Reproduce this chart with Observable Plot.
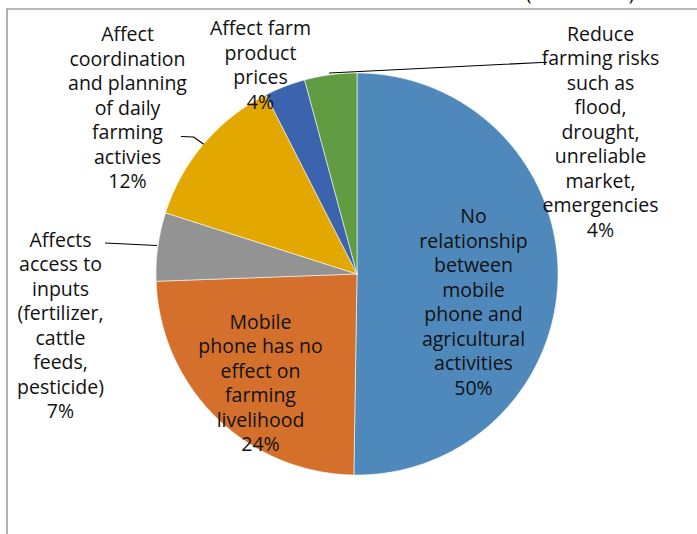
<!DOCTYPE html>
<html>
<head>
<meta charset="utf-8">
<script src="https://cdn.jsdelivr.net/npm/d3@7"></script>
<script src="https://cdn.jsdelivr.net/npm/@observablehq/plot@0.6"></script>
<style>
  html, body { margin: 0; padding: 0; background: #fff; }
  #chart { width: 697px; height: 534px; overflow: hidden; }
</style>
</head>
<body>
<div id="chart"></div>
<script>
// ---- data (clockwise from 12 o'clock) ----
const categories = [
  "No relationship between mobile phone and agricultural activities",
  "Mobile phone has no effect on farming livelihood",
  "Affects access to inputs (fertilizer, cattle feeds, pesticide)",
  "Affect coordination and planning of daily farming activies",
  "Affect farm product prices",
  "Reduce farming risks such as flood, drought, unreliable market, emergencies"
];
const shares = [50.3, 24.2, 5.5, 12.6, 3.3, 4.2];
// percentage labels as printed
const pctLabels = ["50%", "24%", "7%", "12%", "4%", "4%"];
// wrapped label lines as printed
const labelLines = [
  "No\nrelationship\nbetween\nmobile\nphone and\nagricultural\nactivities",
  "Mobile\nphone has no\neffect on\nfarming\nlivelihood",
  "Affects\naccess to\ninputs\n(fertilizer,\ncattle\nfeeds,\npesticide)",
  "Affect\ncoordination\nand planning\nof daily\nfarming\nactivies",
  "Affect farm\nproduct\nprices",
  "Reduce\nfarming risks\nsuch as\nflood,\ndrought,\nunreliable\nmarket,\nemergencies"
];

// ---- styles / layout ----
const colors = ["#4f88bb", "#d4702b", "#939393", "#e2a800", "#3c63ad", "#629c42"];
const W = 697, H = 534;
const CX = 356.5, CY = 273.5, R = 201;
const FS = 19.5, LH = 24.5;
// label block centres (pixels)
const labelPos = [
  [473, 300.5], [260, 381.5], [60, 324], [127, 106.5], [260, 63.5], [600, 130.5]
];
// leader lines (pixels)
const leaders = [
  {id: "risk", pts: [[329, 72.5], [541, 62], [546, 62]]},
  {id: "coord", pts: [[181, 136], [193, 136.5], [203, 143.5]]},
  {id: "inputs", pts: [[105, 242.5], [156, 245]]}
];

// ---- build geometry via d3.pie ----
const arcs = d3.pie().sort(null).value(d => d)(shares);
const slices = arcs.map((a, i) => {
  const pts = [{x: CX, y: CY}];
  const n = Math.max(8, Math.ceil((a.endAngle - a.startAngle) / 0.01));
  for (let k = 0; k <= n; k++) {
    const t = a.startAngle + (a.endAngle - a.startAngle) * k / n;
    pts.push({x: CX + R * Math.sin(t), y: CY - R * Math.cos(t)});
  }
  pts.push({x: CX, y: CY});
  return {name: categories[i], color: colors[i], pts};
});

const labels = categories.map((c, i) => ({
  name: c,
  x: labelPos[i][0],
  y: labelPos[i][1],
  text: labelLines[i] + "\n" + pctLabels[i]
}));

const leaderPts = leaders.flatMap(l => l.pts.map(p => ({id: l.id, x: p[0], y: p[1]})));

const chart = Plot.plot({
  width: W,
  height: H,
  margin: 0,
  x: {domain: [0, W], range: [0, W], axis: null},
  y: {domain: [0, H], range: [0, H], axis: null},
  style: {fontFamily: "'Open Sans', sans-serif", background: "#fff", overflow: "visible"},
  marks: [
    // chart area frame (left and top edges visible)
    Plot.ruleX([6.5], {y1: 8.5, y2: H, stroke: "#a0a0a0", strokeWidth: 1.6}),
    Plot.ruleY([8.5], {x1: 6.5, x2: W, stroke: "#a0a0a0", strokeWidth: 1.6}),
    // bottoms of a clipped title line above the chart area
    Plot.text(["(", ")"], {x: [528, 631], y: [-7, -7], text: d => d, fontSize: 19.5, fill: "#111", lineAnchor: "middle"}),
    ...slices.map(s => Plot.line(s.pts, {
      x: "x", y: "y", fill: s.color, stroke: "#ffffff", strokeWidth: 0.7,
      strokeOpacity: 0.8, curve: "linear"
    })),
    Plot.line(leaderPts, {x: "x", y: "y", z: "id", stroke: "#000", strokeWidth: 1.1}),
    Plot.text(labels, {
      x: "x", y: "y", text: "text",
      fontSize: FS, lineHeight: LH / FS, lineAnchor: "middle", textAnchor: "middle",
      fill: "#111"
    })
  ]
});
document.getElementById("chart").appendChild(chart);
</script>
</body>
</html>
